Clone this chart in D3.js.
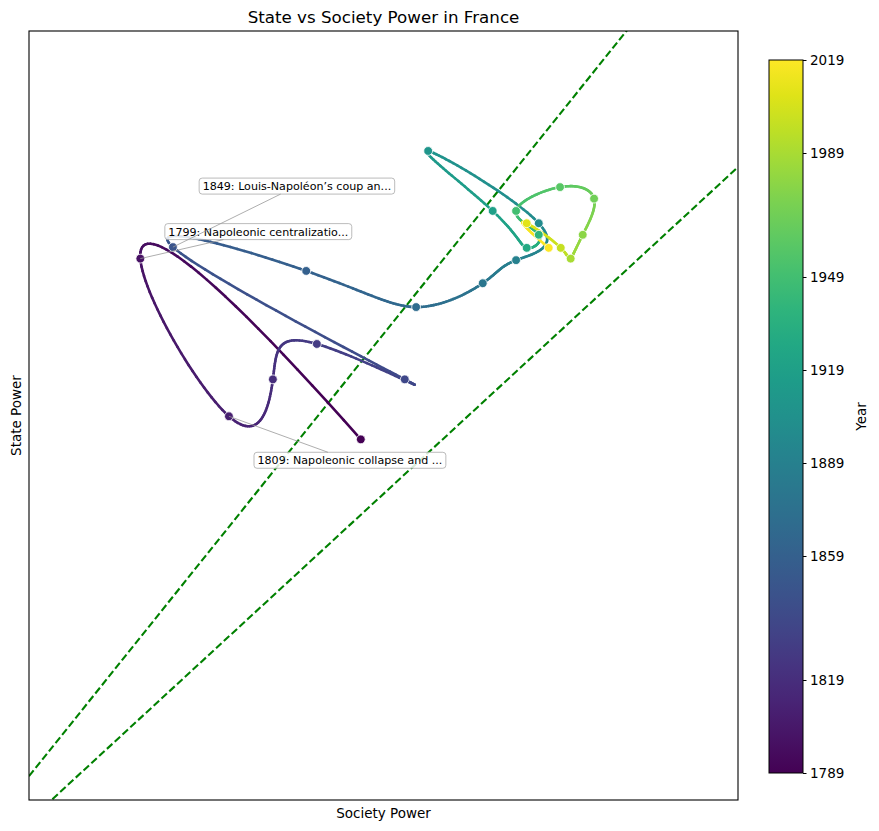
<!DOCTYPE html>
<html>
<head>
<meta charset="utf-8">
<script src="https://cdn.jsdelivr.net/npm/d3@7"></script>
<style>
body { margin: 0; background: #fff; }
svg { font-family: "DejaVu Sans", sans-serif; }
</style>
</head>
<body>
<svg id="graphic" width="879" height="831"></svg>
<script>
var years = [1789, 1799, 1809, 1819, 1829, 1839, 1849, 1859, 1869, 1879, 1889, 1899,
	1909, 1919, 1929, 1939, 1949, 1959, 1969, 1979, 1989, 1999, 2009, 2019];
var societyPower = [66.1, 35.0, 47.5, 53.7, 59.9, 72.3, 39.6, 58.4, 73.9, 83.3, 88.0, 91.2,
	75.6, 84.7, 89.5, 91.2, 88.0, 94.2, 99.0, 97.4, 95.7, 94.3, 89.5, 92.6];
var statePower = [66.0, 89.5, 69.0, 73.8, 78.4, 73.8, 91.0, 87.9, 83.2, 86.3, 89.3, 94.1,
	103.5, 95.7, 90.9, 92.6, 95.7, 98.8, 97.3, 92.6, 89.5, 90.9, 94.1, 90.9];

var cbarTicks = [1789, 1819, 1859, 1889, 1919, 1949, 1989, 2019];

var annotYears = [1799, 1809, 1849];
var annotTexts = ["1799: Napoleonic centralizatio...", "1809: Napoleonic collapse and ...", "1849: Louis-Napoléon\u2019s coup an..."];

var bandSlopes = [1.15, 0.85];

var xDomain = [19.3, 119.3];
var yDomain = [19.1, 119.1];

// label offsets in px, same order as annotYears
var annotOffsets = [[118, -27], [121, 44], [124, -61]];

var SAMPLES_PER_STEP = 30;


// cubic spline, not-a-knot ends (like scipy make_interp_spline k=3)
function makeSpline(ts, ys) {
	var n = ts.length;
	var h = [];
	for (var i = 0; i < n - 1; i++) h.push(ts[i + 1] - ts[i]);

	var A = [], b = [];
	for (var i = 0; i < n; i++) {
		A.push(new Array(n).fill(0));
		b.push(0);
	}

	A[0][0] = -h[1]; A[0][1] = h[0] + h[1]; A[0][2] = -h[0];
	for (var i = 1; i < n - 1; i++) {
		A[i][i - 1] = h[i - 1];
		A[i][i] = 2 * (h[i - 1] + h[i]);
		A[i][i + 1] = h[i];
		b[i] = 6 * ((ys[i + 1] - ys[i]) / h[i] - (ys[i] - ys[i - 1]) / h[i - 1]);
	}
	A[n - 1][n - 3] = -h[n - 2]; A[n - 1][n - 2] = h[n - 2] + h[n - 3]; A[n - 1][n - 1] = -h[n - 3];

	// gaussian elimination
	for (var c = 0; c < n; c++) {
		var p = c;
		for (var r = c + 1; r < n; r++) {
			if (Math.abs(A[r][c]) > Math.abs(A[p][c])) p = r;
		}
		var tmp = A[c]; A[c] = A[p]; A[p] = tmp;
		var tb = b[c]; b[c] = b[p]; b[p] = tb;
		for (var r = c + 1; r < n; r++) {
			var f = A[r][c] / A[c][c];
			if (f === 0) continue;
			for (var k = c; k < n; k++) A[r][k] -= f * A[c][k];
			b[r] -= f * b[c];
		}
	}
	var M = new Array(n).fill(0);
	for (var r = n - 1; r >= 0; r--) {
		var s = b[r];
		for (var k = r + 1; k < n; k++) s -= A[r][k] * M[k];
		M[r] = s / A[r][r];
	}

	return function(t) {
		var i = Math.min(n - 2, Math.max(0, d3.bisectRight(ts, t) - 1));
		var hi = h[i];
		var a = ts[i + 1] - t, bb = t - ts[i];
		return M[i] * a * a * a / (6 * hi) + M[i + 1] * bb * bb * bb / (6 * hi)
			+ (ys[i] / hi - M[i] * hi / 6) * a + (ys[i + 1] / hi - M[i + 1] * hi / 6) * bb;
	};
}


var svg = d3.select("svg"),
	margin = { top: 31, left: 29 },
	width = 709,
	height = 769;

var x = d3.scaleLinear().domain(xDomain).range([margin.left, margin.left + width]);
var y = d3.scaleLinear().domain(yDomain).range([margin.top + height, margin.top]);
var color = d3.scaleSequential(d3.interpolateViridis).domain([years[0], years[years.length - 1]]);

svg.append("defs").append("clipPath")
	.attr("id", "plot-clip")
	.append("rect")
		.attr("x", margin.left)
		.attr("y", margin.top)
		.attr("width", width)
		.attr("height", height);

var plot = svg.append("g").attr("clip-path", "url(#plot-clip)");

// reference band lines
bandSlopes.forEach(function(s) {
	plot.append("line")
		.attr("x1", x(xDomain[0]))
		.attr("y1", y(s * xDomain[0]))
		.attr("x2", x(xDomain[1]))
		.attr("y2", y(s * xDomain[1]))
		.attr("stroke", "green")
		.attr("stroke-width", 2.1)
		.attr("stroke-dasharray", "7.4,3.2");
});

// smooth trajectory, coloured by year
var sx = makeSpline(years, societyPower);
var sy = makeSpline(years, statePower);
var segs = [];
for (var i = 0; i < years.length - 1; i++) {
	for (var j = 0; j < SAMPLES_PER_STEP; j++) {
		var t0 = years[i] + (years[i + 1] - years[i]) * j / SAMPLES_PER_STEP;
		var t1 = years[i] + (years[i + 1] - years[i]) * (j + 1) / SAMPLES_PER_STEP;
		segs.push({ t0: t0, t1: t1 });
	}
}

plot.append("g").selectAll("line")
	.data(segs)
	.enter().append("line")
		.attr("x1", function(d) { return x(sx(d.t0)); })
		.attr("y1", function(d) { return y(sy(d.t0)); })
		.attr("x2", function(d) { return x(sx(d.t1)); })
		.attr("y2", function(d) { return y(sy(d.t1)); })
		.attr("stroke", function(d) { return color((d.t0 + d.t1) / 2); })
		.attr("stroke-width", 2.6)
		.attr("stroke-linecap", "round");

plot.append("g").selectAll("circle")
	.data(years)
	.enter().append("circle")
		.attr("cx", function(d, i) { return x(societyPower[i]); })
		.attr("cy", function(d, i) { return y(statePower[i]); })
		.attr("r", 4.4)
		.attr("fill", function(d) { return color(d); })
		.attr("stroke", "#fff")
		.attr("stroke-width", 0.8);

// annotations
var annG = svg.append("g").attr("font-size", "11.1px");
annotYears.forEach(function(yr, k) {
	var idx = years.indexOf(yr);
	var px = x(societyPower[idx]), py = y(statePower[idx]);
	var cx = px + annotOffsets[k][0], cy = py + annotOffsets[k][1];

	var box = annG.append("rect");
	var txt = annG.append("text")
		.attr("x", cx)
		.attr("y", cy)
		.attr("dy", "0.35em")
		.attr("text-anchor", "middle")
		.attr("fill", "#000")
		.text(annotTexts[k]);
	var bb = txt.node().getBBox();
	box.attr("x", bb.x - 3.5)
		.attr("y", cy - 8)
		.attr("width", bb.width + 7)
		.attr("height", 16)
		.attr("rx", 3)
		.attr("fill", "#fff")
		.attr("fill-opacity", 0.85)
		.attr("stroke", "#aaa")
		.attr("stroke-width", 0.8);

	// connector from box edge to the point, drawn after the box
	var dx = px - cx, dy = py - cy;
	var tEdge = Math.min(Math.abs((bb.width / 2 + 3.5) / dx), Math.abs(8 / dy));
	annG.append("line")
		.attr("x1", cx + dx * tEdge).attr("y1", cy + dy * tEdge)
		.attr("x2", px).attr("y2", py)
		.attr("stroke", "#999")
		.attr("stroke-width", 0.8);
});

// frame
svg.append("rect")
	.attr("x", margin.left)
	.attr("y", margin.top)
	.attr("width", width)
	.attr("height", height)
	.attr("fill", "none")
	.attr("stroke", "#000")
	.attr("stroke-width", 1.1);

svg.append("text")
	.attr("x", margin.left + width / 2)
	.attr("y", 23)
	.attr("text-anchor", "middle")
	.attr("font-size", "16.7px")
	.text("State vs Society Power in France");

svg.append("text")
	.attr("x", margin.left + width / 2)
	.attr("y", 818)
	.attr("text-anchor", "middle")
	.attr("font-size", "13.5px")
	.text("Society Power");

svg.append("text")
	.attr("transform", "translate(21," + (margin.top + height / 2) + ") rotate(-90)")
	.attr("text-anchor", "middle")
	.attr("font-size", "13.5px")
	.text("State Power");

// colorbar
var cb = { x: 769, y: 60, w: 34, h: 713 };
var grad = svg.select("defs").append("linearGradient")
	.attr("id", "cbar-grad")
	.attr("x1", "0").attr("y1", "1")
	.attr("x2", "0").attr("y2", "0");
d3.range(0, 1.0001, 0.05).forEach(function(f) {
	grad.append("stop")
		.attr("offset", f)
		.attr("stop-color", d3.interpolateViridis(f));
});

svg.append("rect")
	.attr("x", cb.x).attr("y", cb.y)
	.attr("width", cb.w).attr("height", cb.h)
	.attr("fill", "url(#cbar-grad)")
	.attr("stroke", "#000")
	.attr("stroke-width", 1);

var cbScale = d3.scaleLinear().domain(color.domain()).range([cb.y + cb.h, cb.y]);
var cbAxis = svg.append("g")
	.attr("transform", "translate(" + (cb.x + cb.w) + ",0)")
	.call(d3.axisRight(cbScale).tickValues(cbarTicks).tickFormat(d3.format("d"))
		.tickSize(3.5).tickPadding(3.5));
cbAxis.select(".domain").remove();
cbAxis.selectAll("text").attr("font-size", "13.5px").attr("font-family", "DejaVu Sans");
cbAxis.selectAll("line").attr("stroke-width", 1);

svg.append("text")
	.attr("transform", "translate(866," + (cb.y + cb.h / 2) + ") rotate(-90)")
	.attr("text-anchor", "middle")
	.attr("font-size", "13.5px")
	.text("Year");
</script>
</body>
</html>
